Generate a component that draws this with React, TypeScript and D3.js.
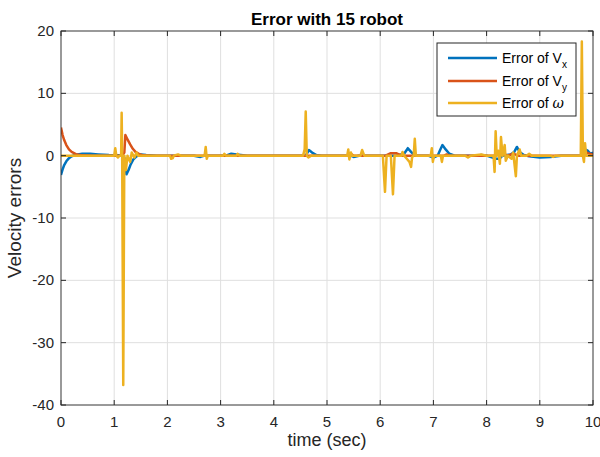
import React from 'react';
import * as d3 from 'd3';

// tick values
const timeTicks = [0, 1, 2, 3, 4, 5, 6, 7, 8, 9, 10];
const errorTicks = [20, 10, 0, -10, -20, -30, -40];

// error of Vx  [time, value]
const vxErr: [number, number][] = [
  [0, -3.1], [0.03, -2.2], [0.06, -1.5], [0.1, -0.9], [0.15, -0.4], [0.2, -0.1], [0.28, 0.15],
  [0.4, 0.3], [0.55, 0.3], [0.7, 0.2], [0.9, 0.1], [1.1, 0.05], [1.17, 0], [1.2, -0.5], [1.23, -3],
  [1.27, -2.3], [1.31, -1.4], [1.36, -0.6], [1.42, -0.1], [1.5, 0.2], [1.6, 0.1], [1.8, 0],
  [2.5, 0], [2.62, -0.2], [2.7, 0], [3.1, 0], [3.2, 0.3], [3.3, 0.2], [3.5, 0], [4.6, 0],
  [4.66, 0.9], [4.72, 0.5], [4.8, 0.1], [4.9, 0], [5.45, 0], [5.5, -0.2], [5.6, 0], [6.3, 0],
  [6.45, 0.3], [6.52, 1.2], [6.58, 0.6], [6.65, 0], [6.9, 0], [7.0, -0.3], [7.08, 0], [7.12, 0.8],
  [7.17, 1.7], [7.23, 1.0], [7.3, 0.3], [7.4, 0], [7.8, 0], [7.9, 0.1], [8.0, 0], [8.18, -0.5],
  [8.24, -0.5], [8.3, 0], [8.45, 0.2], [8.52, 0.6], [8.57, 1.4], [8.62, 0.6], [8.7, 0.1],
  [8.8, -0.1], [9.0, -0.3], [9.2, -0.2], [9.4, 0], [9.8, 0], [9.85, 1.0], [9.9, 0.8], [9.95, 0.3], [10, 0.5],
];

// error of Vy
const vyErr: [number, number][] = [
  [0, 4.5], [0.03, 3.3], [0.06, 2.5], [0.1, 1.7], [0.15, 1.0], [0.2, 0.6], [0.28, 0.25], [0.4, 0.05],
  [0.6, 0], [1.15, 0], [1.19, 0.5], [1.21, 3.3], [1.25, 2.6], [1.3, 1.8], [1.35, 1.1], [1.4, 0.6],
  [1.47, 0.25], [1.55, 0.05], [1.7, 0], [5.4, 0], [5.45, 0.3], [5.5, 0], [6.1, 0], [6.2, 0.4],
  [6.3, 0.4], [6.4, 0], [7.2, 0], [7.25, 0.2], [7.3, 0], [8.15, 0], [8.2, 0.4], [8.3, 0.3], [8.4, 0],
  [8.5, 0.3], [8.6, 0], [9.8, 0], [9.84, 0.8], [9.9, 0.4], [10, 0.2],
];

// error of omega
const omegaErr: [number, number][] = [
  [0, 0], [1.0, 0], [1.02, 1.2], [1.04, 0], [1.07, -0.3], [1.1, 0], [1.13, 0], [1.14, 6.9],
  [1.15, 0], [1.17, -36.8], [1.19, 0], [1.22, -2.3], [1.25, 0], [1.3, -1.0], [1.33, 0.5],
  [1.38, -0.3], [1.42, 0.5], [1.45, 0], [2.05, 0], [2.07, -0.5], [2.1, -0.4], [2.12, 0], [2.2, 0.2],
  [2.25, 0], [2.7, 0], [2.72, 1.4], [2.74, -0.5], [2.76, 0], [3.05, 0], [3.07, 0.3], [3.1, 0],
  [3.3, 0], [3.32, 0.3], [3.35, 0], [4.55, 0], [4.58, 1], [4.6, 7.1], [4.62, 0], [4.65, -0.3],
  [4.7, 0], [5.38, 0], [5.4, 1.0], [5.42, -0.6], [5.45, 0.5], [5.47, 0], [5.63, 0], [5.66, 0.9],
  [5.7, 0], [6.05, 0], [6.09, -5.8], [6.12, 0], [6.2, 0], [6.24, -6.2], [6.27, 0], [6.4, 0],
  [6.42, 0.6], [6.45, 0], [6.5, -0.5], [6.55, -1.0], [6.58, -1.8], [6.6, -0.2], [6.63, 0],
  [6.65, 2.7], [6.67, 0], [6.95, 0], [6.97, 1.2], [6.99, -1.0], [7.01, 0], [7.14, 0], [7.16, -1.0],
  [7.18, 0], [7.6, 0], [7.65, -0.3], [7.7, 0], [7.9, 0.2], [8.0, 0], [8.13, 0], [8.15, -2.6],
  [8.17, 3.9], [8.19, 0], [8.22, 0.8], [8.25, -1.3], [8.27, 3.0], [8.3, 0], [8.34, 1.7],
  [8.36, -0.8], [8.4, 0], [8.47, -0.5], [8.5, 0.5], [8.55, -3.3], [8.57, 0], [8.62, 1.0], [8.65, 0],
  [8.75, 0], [8.8, 0.3], [8.85, 0], [9.2, 0], [9.25, -0.2], [9.3, 0], [9.77, 0], [9.79, 18.3],
  [9.81, 0], [9.83, -1], [9.85, 2.0], [9.87, 0], [10, 0],
];

const series = [
  { name: 'x', data: vxErr, color: '#0072BD' },
  { name: 'y', data: vyErr, color: '#D95319' },
  { name: 'w', data: omegaErr, color: '#EDB120' },
];

const W = 600, H = 457;
const left = 61, right = 593, top = 31, bottom = 405;
const axisColor = '#262626';
const font = '"Liberation Sans", Arial, sans-serif';

export default function App() {
  const x = d3.scaleLinear().domain([0, 10]).range([left, right]);
  const y = d3.scaleLinear().domain([-40, 20]).range([bottom, top]);
  const line = d3.line<[number, number]>()
    .x(d => x(d[0]))
    .y(d => y(d[1]));

  const legX = 437, legY = 43;
  const rows = [58, 81, 103];

  return (
    <svg width={W} height={H} style={{ position: 'absolute', left: 0, top: 0, background: '#fff' }}
      fontFamily={font}>
      <rect x={0} y={0} width={W} height={H} fill="#fff" />
      {/* grid */}
      {timeTicks.map(t => (
        <line key={'gx' + t} x1={x(t)} x2={x(t)} y1={top} y2={bottom} stroke="#dfdfdf" strokeWidth={1} />
      ))}
      {errorTicks.map(v => (
        <line key={'gy' + v} x1={left} x2={right} y1={y(v)} y2={y(v)} stroke="#dfdfdf" strokeWidth={1} />
      ))}
      {/* series */}
      <g clipPath="url(#clip)">
        {series.map(s => (
          <path key={s.name} d={line(s.data) || ''} fill="none" stroke={s.color}
            strokeWidth={2.5} strokeLinejoin="round" />
        ))}
      </g>
      <defs>
        <clipPath id="clip">
          <rect x={left} y={top - 2} width={right - left} height={bottom - top + 4} />
        </clipPath>
      </defs>
      {/* box */}
      <rect x={left} y={top} width={right - left} height={bottom - top} fill="none" stroke={axisColor}
        strokeOpacity={0.85} strokeWidth={1} />
      {timeTicks.map(t => (
        <g key={'tx' + t}>
          <line x1={x(t)} x2={x(t)} y1={bottom} y2={bottom - 5} stroke={axisColor} />
          <line x1={x(t)} x2={x(t)} y1={top} y2={top + 5} stroke={axisColor} />
          <text x={x(t)} y={427} textAnchor="middle" fontSize={15} fill={axisColor}>{t}</text>
        </g>
      ))}
      {errorTicks.map(v => (
        <g key={'ty' + v}>
          <line x1={left} x2={left + 5} y1={y(v)} y2={y(v)} stroke={axisColor} />
          <line x1={right} x2={right - 5} y1={y(v)} y2={y(v)} stroke={axisColor} />
          <text x={54} y={y(v) + 5} textAnchor="end" fontSize={15} fill={axisColor}>{v}</text>
        </g>
      ))}
      {/* title and labels */}
      <text x={(left + right) / 2} y={25} textAnchor="middle" fontSize={17} fontWeight="bold" fill="#000">
        Error with 15 robot
      </text>
      <text x={(left + right) / 2} y={446} textAnchor="middle" fontSize={18} fill={axisColor}>time (sec)</text>
      <text transform={`translate(21,${(top + bottom) / 2}) rotate(-90)`} textAnchor="middle" fontSize={19}
        fill={axisColor}>Velocity errors</text>
      {/* legend */}
      <rect x={legX} y={legY} width={139} height={73} fill="#fff" stroke={axisColor} strokeWidth={1} />
      {series.map((s, i) => (
        <g key={'lg' + s.name}>
          <line x1={448} x2={497} y1={rows[i]} y2={rows[i]} stroke={s.color} strokeWidth={2.5} />
          <text x={502} y={rows[i] + 5} fontSize={14} fill="#000">
            Error of {s.name === 'w'
              ? <tspan fontStyle="italic" fontFamily="'DejaVu Serif', serif">ω</tspan>
              : <>V<tspan fontSize={10} dy={5}>{s.name}</tspan></>}
          </text>
        </g>
      ))}
    </svg>
  );
}
